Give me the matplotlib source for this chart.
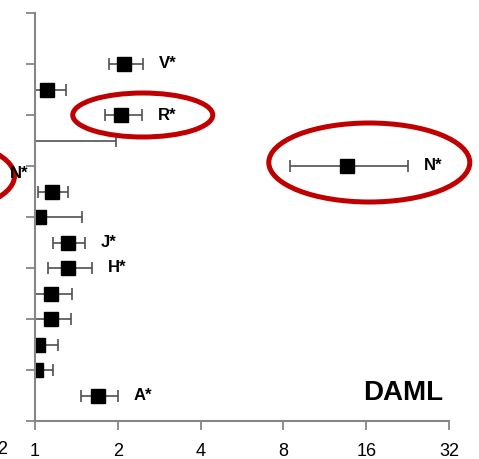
import matplotlib.pyplot as plt
from matplotlib.patches import Ellipse
from matplotlib.transforms import ScaledTranslation

plt.rcParams['font.family'] = ['Liberation Sans', 'DejaVu Sans']

# rows from bottom (1) to top (14), ratio on log2 axis
filas = [1, 2, 3, 4, 5, 6, 7, 8, 9, 10, 11, 12, 13, 14]
valores = [1.69, 1.008, 1.025, 1.143, 1.143, 1.32, 1.32, 1.034, 1.153, 13.6, 0.8, 2.05, 1.106, 2.11]
minimos = [1.47, 0.88, 0.88, 0.98, 1.0, 1.115, 1.163, 0.9, 1.025, 8.45, 0.5, 1.80, 0.95, 1.86]
maximos = [2.0, 1.163, 1.21, 1.35, 1.363, 1.61, 1.52, 1.48, 1.32, 22.7, 1.97, 2.45, 1.30, 2.47]
etiquetas = ['A*', '', '', '', '', 'H*', 'J*', '', '', 'N*', '', 'R*', '', 'V*']
circulados = ['N*', 'R*']
ticks_x = [1, 2, 4, 8, 16, 32]

gris = '#868686'
rojo = '#C00000'

fig = plt.figure(figsize=(4.79, 4.59), dpi=100)
ax = fig.add_axes([35 / 479, 38 / 459, 414 / 479, 408 / 459])

err_bajo = [v - lo for v, lo in zip(valores, minimos)]
err_alto = [hi - v for v, hi in zip(valores, maximos)]
ax.errorbar(valores, filas, xerr=[err_bajo, err_alto], fmt='s', color='black',
            ms=9.5, ecolor='#505050', elinewidth=1.2, capsize=4, capthick=1.2)

for v, hi, f, lbl in zip(valores, maximos, filas, etiquetas):
    if lbl:
        ax.annotate(lbl, xy=(hi, f), xytext=(11.5, 0), textcoords='offset points',
                    ha='left', va='center', fontsize=12, fontweight='bold')

# red ellipses around highlighted points (offsets in inches from the marker)
elipses = {'R*': (0.22, 0.0, 1.40, 0.44), 'N*': (0.225, 0.035, 2.01, 0.79)}
for v, f, lbl in zip(valores, filas, etiquetas):
    if lbl in circulados:
        dx, dy, w, h = elipses[lbl]
        tr = fig.dpi_scale_trans + ScaledTranslation(v, f, ax.transData)
        fig.add_artist(Ellipse((dx, dy), w, h, transform=tr, fill=False,
                               edgecolor=rojo, lw=3.6, clip_on=False))

ax.set_xscale('log', base=2)
ax.set_xlim(1, 32)
ax.set_ylim(0, 16)
ax.set_xticks(ticks_x)
ax.set_xticklabels([str(t) for t in ticks_x], fontsize=13)
ax.set_yticks(range(0, 17, 2))
ax.set_yticklabels([])
ax.minorticks_off()
ax.tick_params(axis='both', direction='out', length=6.5, width=1.3, color=gris, pad=9)

for lado in ['top', 'right']:
    ax.spines[lado].set_visible(False)
for lado in ['left', 'bottom']:
    ax.spines[lado].set_color(gris)
    ax.spines[lado].set_linewidth(1.5)

fig.text(443 / 479, 1 - 393 / 459, 'DAML', ha='right', va='center',
         fontsize=20, fontweight='bold')

# pieces of the neighbouring panel cut by the crop
fig.text(8 / 479, 1 - 450 / 459, '32', ha='right', va='center', fontsize=13)
fig.text(28 / 479, 1 - 174 / 459, 'N*', ha='right', va='center', fontsize=12, fontweight='bold')
fig.add_artist(Ellipse((-86 / 479, 1 - 176 / 459), 201 / 479, 79 / 459,
                       transform=fig.transFigure, fill=False, edgecolor=rojo,
                       lw=3.6, clip_on=False))

fig.savefig('out.png', dpi=100)
